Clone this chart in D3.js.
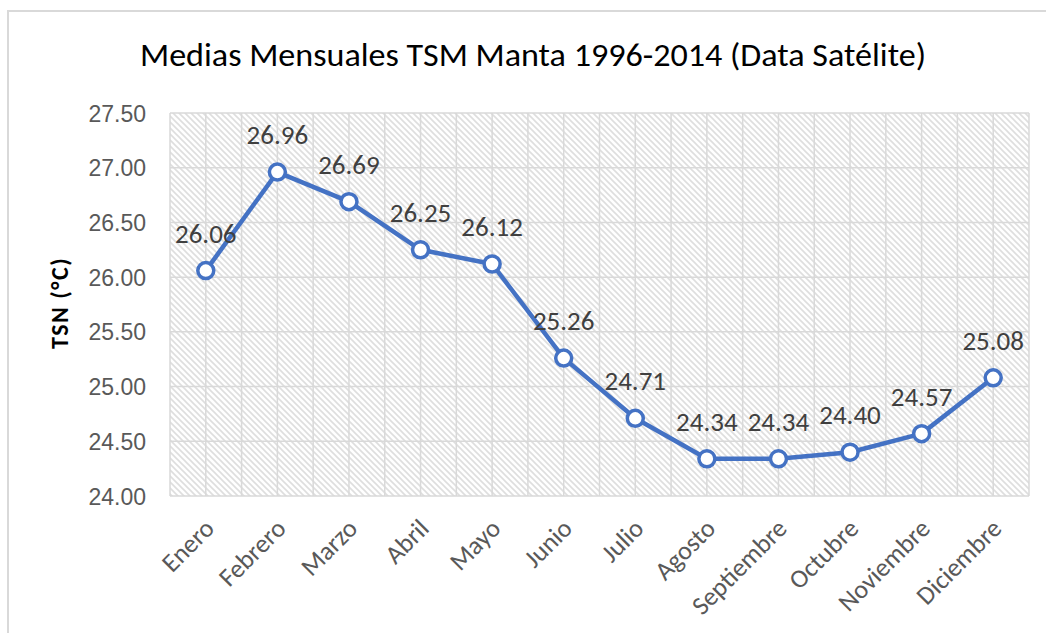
<!DOCTYPE html>
<html>
<head>
<meta charset="utf-8">
<script src="https://cdn.jsdelivr.net/npm/d3@7"></script>
<style>
	body { margin: 0; background: #fff; }
	svg { display: block; font-family: Carlito, Calibri, "Open Sans", sans-serif; }
</style>
</head>
<body>
<svg id="chart" width="1046" height="633"></svg>
<script>
var months = ["Enero", "Febrero", "Marzo", "Abril", "Mayo", "Junio", "Julio", "Agosto", "Septiembre", "Octubre", "Noviembre", "Diciembre"];
var tsm = [26.06, 26.96, 26.69, 26.25, 26.12, 25.26, 24.71, 24.34, 24.34, 24.40, 24.57, 25.08];
var yTicks = [24.00, 24.50, 25.00, 25.50, 26.00, 26.50, 27.00, 27.50];
var title = "Medias Mensuales TSM Manta 1996-2014 (Data Satélite)";
var yTitle = "TSN (°C)";

+function(){
	var svg = d3.select('#chart');
	var grid = '#d9d9d9';
	var blue = '#4472c4';

	var m = {left: 170, right: 1029, top: 113, bottom: 496};

	var x = d3.scaleBand().domain(months).range([m.left, m.right]);
	var y = d3.scaleLinear().domain([24, 27.5]).range([m.bottom, m.top]);
	var cx = function(d){ return x(d) + x.bandwidth() / 2; };

	// chart frame (only top & left edge visible in the picture)
	svg.append('path')
		.attr('d', 'M8,633V11H1046')
		.attr('fill', 'none').attr('stroke', grid).attr('stroke-width', 2);

	// hatch pattern for plot area
	var pat = svg.append('defs').append('pattern')
		.attr('id', 'hatch').attr('patternUnits', 'userSpaceOnUse')
		.attr('width', 6).attr('height', 6);
	pat.append('rect').attr('width', 6).attr('height', 6).attr('fill', '#fff');
	pat.append('path')
		.attr('d', 'M-1,-1L7,7M-1,5L1,7M5,-1L7,1')
		.attr('stroke', '#dedede').attr('stroke-width', 1.6);

	svg.append('rect')
		.attr('x', m.left).attr('y', m.top)
		.attr('width', m.right - m.left).attr('height', m.bottom - m.top)
		.attr('fill', 'url(#hatch)');

	// gridlines
	var g = svg.append('g');
	g.selectAll('line.h').data(yTicks).enter().append('line')
		.attr('x1', m.left).attr('x2', m.right)
		.attr('y1', function(d){ return y(d); }).attr('y2', function(d){ return y(d); })
		.attr('stroke', grid).attr('stroke-width', 1.5);

	// vertical lines at band edges and band centres
	var vx = [];
	months.forEach(function(d){ vx.push(x(d)); vx.push(cx(d)); });
	vx.push(m.right);
	g.selectAll('line.v').data(vx).enter().append('line')
		.attr('x1', function(d){ return d; }).attr('x2', function(d){ return d; })
		.attr('y1', m.top).attr('y2', m.bottom)
		.attr('stroke', grid).attr('stroke-width', 1.5);

	// y axis
	var yAxis = svg.append('g')
		.attr('transform', 'translate(' + (m.left - 24) + ',0)')
		.call(d3.axisLeft(y).tickValues(yTicks).tickSize(0).tickFormat(d3.format('.2f')));
	yAxis.select('.domain').remove();
	yAxis.selectAll('text')
		.attr('fill', '#595959').style('font-size', '23px').attr('dy', '0.35em').attr('x', 0);

	// x axis labels
	svg.append('g').selectAll('text').data(months).enter().append('text')
		.attr('transform', function(d){ return 'translate(' + (cx(d) + 10) + ',' + (m.bottom + 34) + ') rotate(-45)'; })
		.attr('text-anchor', 'end')
		.attr('fill', '#595959').style('font-size', '26px')
		.text(function(d){ return d; });

	// line + markers
	var line = d3.line()
		.x(function(d, i){ return cx(months[i]); })
		.y(function(d){ return y(d); });

	svg.append('path').datum(tsm)
		.attr('d', line)
		.attr('fill', 'none').attr('stroke', blue).attr('stroke-width', 4.5)
		.attr('stroke-linejoin', 'round');

	svg.append('g').selectAll('circle').data(tsm).enter().append('circle')
		.attr('cx', function(d, i){ return cx(months[i]); })
		.attr('cy', function(d){ return y(d); })
		.attr('r', 8)
		.attr('fill', '#fff').attr('stroke', blue).attr('stroke-width', 3.5);

	// data labels
	svg.append('g').selectAll('text').data(tsm).enter().append('text')
		.attr('x', function(d, i){ return cx(months[i]); })
		.attr('y', function(d){ return y(d) - 28; })
		.attr('text-anchor', 'middle')
		.attr('fill', '#404040').style('font-size', '27px')
		.text(function(d){ return d.toFixed(2); });

	// titles
	svg.append('text')
		.attr('x', 533).attr('y', 66)
		.attr('text-anchor', 'middle')
		.attr('textLength', 786).attr('lengthAdjust', 'spacingAndGlyphs')
		.attr('fill', '#000').style('font-size', '33px')
		.text(title);

	svg.append('text')
		.attr('transform', 'translate(68,303) rotate(-90)')
		.attr('text-anchor', 'middle')
		.attr('fill', '#000').style('font-size', '24px').style('font-weight', 'bold')
		.style('letter-spacing', '1.5px')
		.text(yTitle);
}();
</script>
</body>
</html>
